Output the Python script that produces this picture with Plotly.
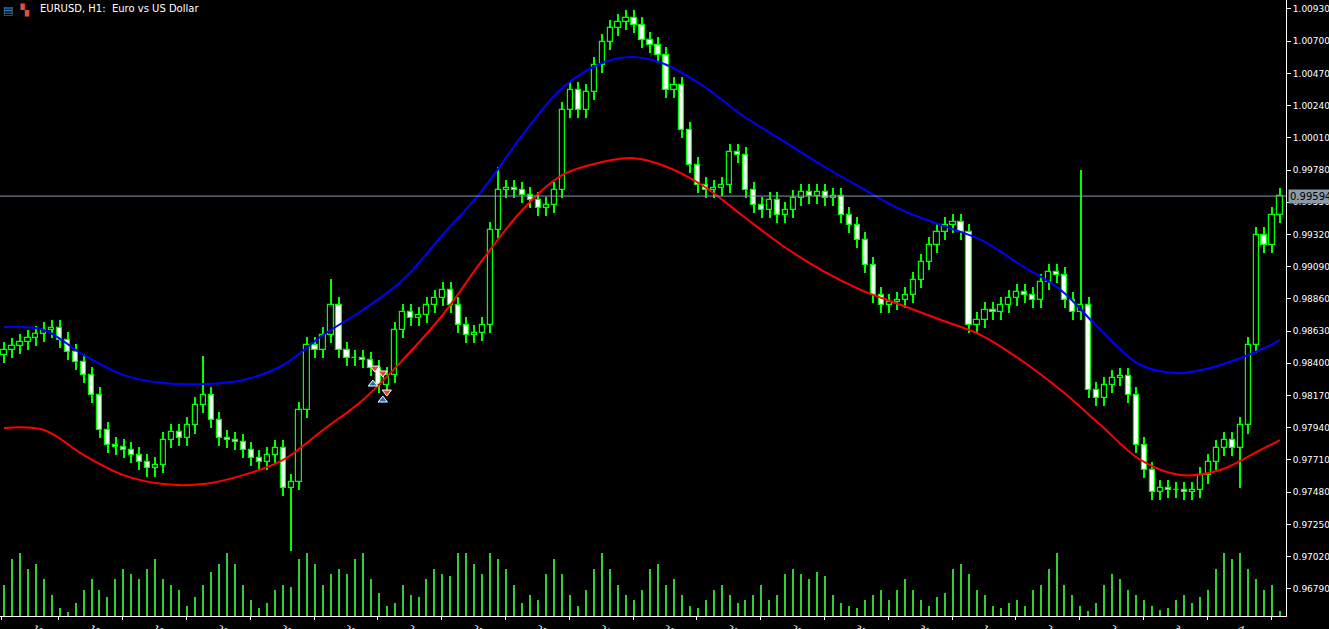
import plotly.graph_objects as go

# EURUSD H1 - one candle per 2 hourly bars, x in bar units (4 px per bar)
CLOSES = [
    0.98495, 0.98524, 0.98552, 0.98581, 0.98609, 0.98638, 0.98652, 0.98566, 0.98481, 0.98409,
    0.98316, 0.98174, 0.97924, 0.97817, 0.97802, 0.97781, 0.97745, 0.97695, 0.97652, 0.97674,
    0.97852, 0.97910, 0.97867, 0.97959, 0.98102, 0.98174, 0.97995, 0.97867, 0.97852, 0.97838,
    0.97781, 0.97724, 0.97695, 0.97745, 0.97795, 0.97510, 0.97553, 0.98067, 0.98531, 0.98495,
    0.98602, 0.98816, 0.98495, 0.98438, 0.98438, 0.98424, 0.98366, 0.98245, 0.98316, 0.98638,
    0.98766, 0.98723, 0.98745, 0.98816, 0.98866, 0.98923, 0.98816, 0.98673, 0.98602, 0.98616,
    0.98673, 0.99352, 0.99637, 0.99652, 0.99637, 0.99602, 0.99566, 0.99509, 0.99530, 0.99637,
    1.00209, 1.00351, 1.00209, 1.00337, 1.00530, 1.00694, 1.00794, 1.00837, 1.00865, 1.00815,
    1.00708, 1.00673, 1.00601, 1.00351, 1.00387, 1.00066, 0.99816, 0.99673, 0.99637, 0.99652,
    0.99673, 0.99909, 0.99887, 0.99637, 0.99530, 0.99495, 0.99566, 0.99459, 0.99495, 0.99580,
    0.99623, 0.99595, 0.99623, 0.99580, 0.99595, 0.99459, 0.99387, 0.99280, 0.99102, 0.98888,
    0.98816, 0.98838, 0.98852, 0.98888, 0.98995, 0.99123, 0.99245, 0.99338, 0.99387, 0.99409,
    0.99338, 0.98673, 0.98709, 0.98781, 0.98766, 0.98816, 0.98866, 0.98909, 0.98888, 0.98852,
    0.98981, 0.99052, 0.99030, 0.98852, 0.98766, 0.98816, 0.98209, 0.98152, 0.98245, 0.98295,
    0.98309, 0.98174, 0.97817, 0.97638, 0.97481, 0.97510, 0.97495, 0.97495, 0.97481, 0.97495,
    0.97602, 0.97695, 0.97795, 0.97852, 0.97795, 0.97959, 0.98531, 0.99316, 0.99245, 0.99459,
    0.99594,
]
FIRST_OPEN = 0.98460
WICK = 0.0006
# occasional long shadows: candle index -> (high, low)
SPIKES = {25: (0.98450, None), 36: (None, 0.97060), 41: (0.99000, None),
          62: (0.99800, None), 135: (0.99780, None), 155: (None, 0.97510)}

VOLUME = [
    30, 55, 60, 45, 50, 35, 20, 8, 4, 12, 25, 35, 25, 18, 35, 45, 40, 35, 45, 55,
    35, 30, 25, 10, 18, 30, 42, 50, 60, 50, 30, 15, 8, 12, 25, 30, 28, 55, 60, 50,
    30, 40, 45, 40, 55, 60, 35, 22, 10, 12, 30, 20, 18, 35, 45, 40, 38, 60, 60, 50,
    40, 60, 55, 45, 30, 12, 20, 15, 40, 55, 40, 20, 10, 25, 45, 60, 45, 30, 20, 15,
    25, 45, 50, 30, 35, 20, 10, 8, 15, 25, 30, 20, 12, 15, 20, 30, 15, 20, 40, 45,
    40, 35, 42, 38, 20, 12, 10, 8, 15, 20, 25, 15, 25, 35, 25, 15, 10, 18, 22, 45,
    50, 40, 25, 20, 10, 8, 12, 15, 10, 25, 30, 45, 60, 30, 20, 10, 5, 12, 30, 40,
    35, 25, 20, 15, 10, 6, 8, 15, 20, 12, 18, 25, 45, 60, 55, 60, 45, 35, 25, 30,
    5,
]

# moving-average envelope lines, x in bar units
MA_X = [0, 10, 20, 30, 40, 50, 60, 70, 80, 90, 100, 110, 120, 130, 140, 150, 157.5,
        165, 175, 185, 195, 205, 215, 225, 235, 245, 255, 265, 275, 285, 295, 305, 315, 320]
BLUE_MA = [0.98659, 0.98638, 0.98459, 0.98316, 0.98259, 0.98252, 0.98281, 0.98388, 0.98602,
           0.98781, 0.98995, 0.99316, 0.99637, 1.00030, 1.00366, 1.00544, 1.00587, 1.00544,
           1.00387, 1.00173, 0.99995, 0.99816, 0.99652, 0.99495, 0.99387, 0.99281, 0.99102,
           0.98923, 0.98638, 0.98388, 0.98331, 0.98388, 0.98495, 0.98566]
RED_MA = [0.97938, 0.97924, 0.97745, 0.97602, 0.97538, 0.97538, 0.97602, 0.97710, 0.97924,
          0.98138, 0.98424, 0.98745, 0.99138, 0.99495, 0.99744, 0.99837, 0.99866, 0.99816,
          0.99673, 0.99459, 0.99245, 0.99066, 0.98923, 0.98816, 0.98709, 0.98602, 0.98424,
          0.98209, 0.97959, 0.97710, 0.97602, 0.97638, 0.97781, 0.97852]

SELL_X = [93, 95, 96]
SELL_Y = [0.98366, 0.98331, 0.98195]
BUY_X = [92.5, 95]
BUY_Y = [0.98252, 0.98138]

PRICE_TICKS = [1.00930, 1.00700, 1.00470, 1.00240, 1.00010, 0.99780, 0.99550, 0.99320,
               0.99090, 0.98860, 0.98630, 0.98400, 0.98170, 0.97940, 0.97710, 0.97480,
               0.97250, 0.97020, 0.96790]
LAST_PRICE = 0.99594

TIME_LABELS = ["18 Oct 2022", "19 Oct 04:00", "19 Oct 20:00", "20 Oct 12:00", "21 Oct 04:00",
               "21 Oct 20:00", "24 Oct 12:00", "25 Oct 04:00", "25 Oct 20:00", "26 Oct 12:00",
               "27 Oct 04:00", "27 Oct 20:00", "28 Oct 12:00", "31 Oct 04:00", "31 Oct 20:00",
               "1 Nov 12:00", "2 Nov 04:00", "2 Nov 20:00", "3 Nov 12:00", "4 Nov 04:00",
               "4 Nov 20:00"]
TIME_POS = [-0.5] + [13.75 + 16 * k for k in range(20)]

GREEN = "#00ff00"
VOL_GREEN = "#32cd32"

xs = [2 * i for i in range(len(CLOSES))]
opens = [FIRST_OPEN] + CLOSES[:-1]
highs, lows = [], []
for i, (o, c) in enumerate(zip(opens, CLOSES)):
    h, l = max(o, c) + WICK, min(o, c) - WICK
    if i in SPIKES:
        sh, sl = SPIKES[i]
        h = sh if sh else h
        l = sl if sl else l
    highs.append(h)
    lows.append(l)

fig = go.Figure()

fig.add_trace(go.Bar(x=xs, y=VOLUME, yaxis="y2", width=0.35, marker_color=VOL_GREEN,
                     marker_line_width=0, hoverinfo="skip"))

fig.add_trace(go.Bar(x=xs, base=lows, y=[h - l for h, l in zip(highs, lows)], width=0.3,
                     marker_color=GREEN, marker_line_width=0, hoverinfo="skip"))

bull = [i for i in range(len(xs)) if CLOSES[i] >= opens[i]]
bear = [i for i in range(len(xs)) if CLOSES[i] < opens[i]]
for idx, fill in ((bull, "#000000"), (bear, "#ffffff")):
    fig.add_trace(go.Bar(
        x=[xs[i] for i in idx],
        base=[min(opens[i], CLOSES[i]) for i in idx],
        y=[max(abs(CLOSES[i] - opens[i]), 0.00003) for i in idx],
        width=1.3, marker_color=fill, marker_line=dict(color=GREEN, width=1.2),
        hoverinfo="skip"))

fig.add_trace(go.Scatter(x=MA_X, y=BLUE_MA, mode="lines", line=dict(color="#0000ff", width=2, shape="spline")))
fig.add_trace(go.Scatter(x=MA_X, y=RED_MA, mode="lines", line=dict(color="#ff0000", width=2, shape="spline")))

fig.add_trace(go.Scatter(x=SELL_X, y=SELL_Y, mode="markers",
                         marker=dict(symbol="triangle-down", size=8, color="#e8452c", line=dict(color="white", width=1))))
fig.add_trace(go.Scatter(x=BUY_X, y=BUY_Y, mode="markers",
                         marker=dict(symbol="triangle-up", size=8, color="#1e6fc0", line=dict(color="white", width=1))))

fig.add_hline(y=LAST_PRICE, line=dict(color="#8a9aa8", width=1))
fig.add_annotation(x=1, xref="paper", xanchor="left", y=LAST_PRICE, yref="y", text="0.99594",
                   showarrow=False, bgcolor="#8a9aa8", font=dict(color="black", size=10, family="DejaVu Sans"),
                   borderpad=1, xshift=2)
fig.add_annotation(x=0.0295, xref="paper", y=1, yref="paper", yanchor="top", xanchor="left",
                   text="EURUSD, H1:  Euro vs US Dollar", showarrow=False, yshift=-1,
                   font=dict(color="white", size=10, family="DejaVu Sans"))
# chart-window icons left of the title
fig.add_annotation(x=0.001, xref="paper", y=1, yref="paper", yanchor="top", xanchor="left",
                   text="<span style='color:#3b8fd6'>▤</span>  <span style='color:#e05040'>▚</span>",
                   showarrow=False, yshift=-1, font=dict(size=11, family="DejaVu Sans"))

fig.update_layout(
    width=1329, height=629, paper_bgcolor="black", plot_bgcolor="black",
    margin=dict(l=0, r=43, t=0, b=13), showlegend=False, barmode="overlay", bargap=0,
    font=dict(color="white", family="DejaVu Sans", size=9),
    xaxis=dict(range=[-1, 321.5], showgrid=False, zeroline=False, tickvals=TIME_POS, ticktext=TIME_LABELS,
               ticks="outside", ticklen=3, tickcolor="white", showline=True, linecolor="white",
               automargin=False, ticklabelshift=32),
    yaxis=dict(range=[0.96596, 1.00994], side="right", showgrid=False, zeroline=False,
               tickvals=PRICE_TICKS, ticktext=[f"{v:.5f}" for v in PRICE_TICKS],
               ticks="outside", ticklen=4, tickcolor="white", showline=True, linecolor="white",
               automargin=False),
    yaxis2=dict(range=[0, 590], overlaying="y", visible=False),
)

fig.write_html("out.html", config={"displayModeBar": False},
               post_script="document.body.style.margin='0';document.body.style.background='black';")
